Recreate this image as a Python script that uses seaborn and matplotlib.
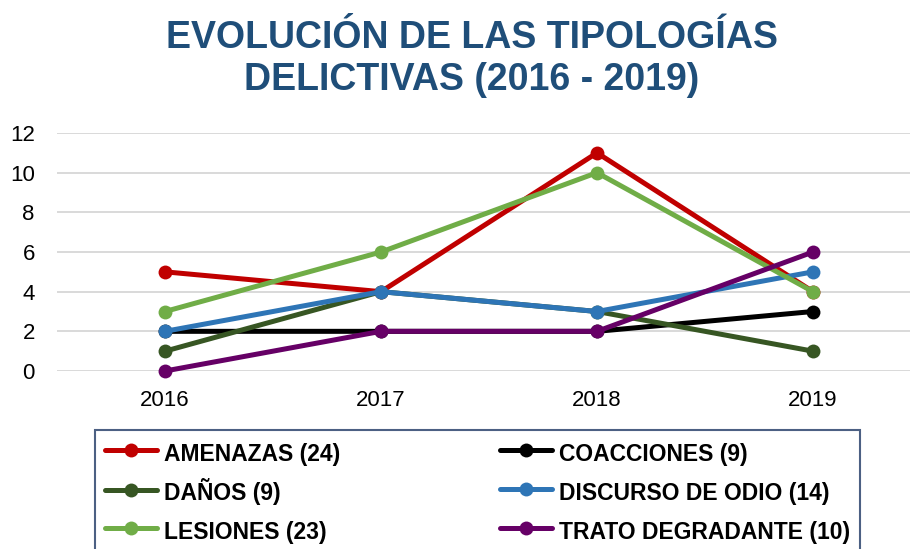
import matplotlib
matplotlib.use("Agg")
import matplotlib.pyplot as plt
from matplotlib.lines import Line2D
import seaborn as sns
import pandas as pd

# Data
years = [2016, 2017, 2018, 2019]
series = ["AMENAZAS (24)", "COACCIONES (9)", "DAÑOS (9)",
          "DISCURSO DE ODIO (14)", "LESIONES (23)", "TRATO DEGRADANTE (10)"]
amenazas = [5, 4, 11, 4]
coacciones = [2, 2, 2, 3]
danos = [1, 4, 3, 1]
discurso_odio = [2, 4, 3, 5]
lesiones = [3, 6, 10, 4]
trato_degradante = [0, 2, 2, 6]
colors = ["#C00000", "#000000", "#375623", "#2E75B6", "#70AD47", "#660066"]

values = [amenazas, coacciones, danos, discurso_odio, lesiones, trato_degradante]
df = pd.DataFrame(
    [(s, y, v) for s, vals in zip(series, values) for y, v in zip(years, vals)],
    columns=["serie", "year", "value"],
)

sns.set_theme(style="white")
plt.rcParams["font.family"] = ["Liberation Sans", "DejaVu Sans"]

fig = plt.figure(figsize=(9.10, 5.49), dpi=100)
ax = fig.add_axes([57 / 910, 1 - 371 / 549, 1 - 57 / 910, (371 - 133) / 549])

sns.lineplot(data=df, x="year", y="value", hue="serie", hue_order=series,
             palette=colors, marker="o", markersize=10, markeredgewidth=0,
             linewidth=3.6, ax=ax, legend=False, clip_on=False)

ax.set_xlim(2015.5, 2015.5 + 853 / 216)
ax.set_ylim(0, 12)
ax.set_yticks(range(0, 13, 2))
ax.set_xticks(years)
ax.set_xlabel("")
ax.set_ylabel("")
ax.grid(axis="y", color="#D9D9D9", linewidth=1.4)
ax.set_axisbelow(True)
for sp in ax.spines.values():
    sp.set_visible(False)
ax.tick_params(axis="y", labelsize=16, pad=16, length=0, colors="black")
ax.tick_params(axis="x", labelsize=16, pad=14, length=0, colors="black")

fig.text(472 / 910, 1 - 59 / 549, "EVOLUCIÓN DE LAS TIPOLOGÍAS\nDELICTIVAS (2016 - 2019)",
         ha="center", va="center", fontsize=27, fontweight="bold",
         color="#1F4E79", linespacing=1.25)

# legend filled row by row, as in the reference
order = [0, 2, 4, 1, 3, 5]
handles = [Line2D([], [], color=colors[i], linewidth=3.6, marker="o", markersize=10,
                  markeredgewidth=0) for i in order]
labels = [series[i] for i in order]
leg = fig.legend(handles, labels, ncol=2, loc="upper left",
                 bbox_to_anchor=(95 / 910, 1 - 430 / 549 - 0.01, 765 / 910, 0.01),
                 mode="expand", frameon=True, fancybox=False,
                 prop={"size": 16.5, "weight": "bold"}, labelcolor="black",
                 handlelength=2.3, handleheight=1.5, handletextpad=0.3,
                 labelspacing=0.47, borderpad=0.42, borderaxespad=0)
leg.get_frame().set_edgecolor("#1F3864")
leg.get_frame().set_linewidth(1.5)

fig.savefig("out.png", dpi=100)
